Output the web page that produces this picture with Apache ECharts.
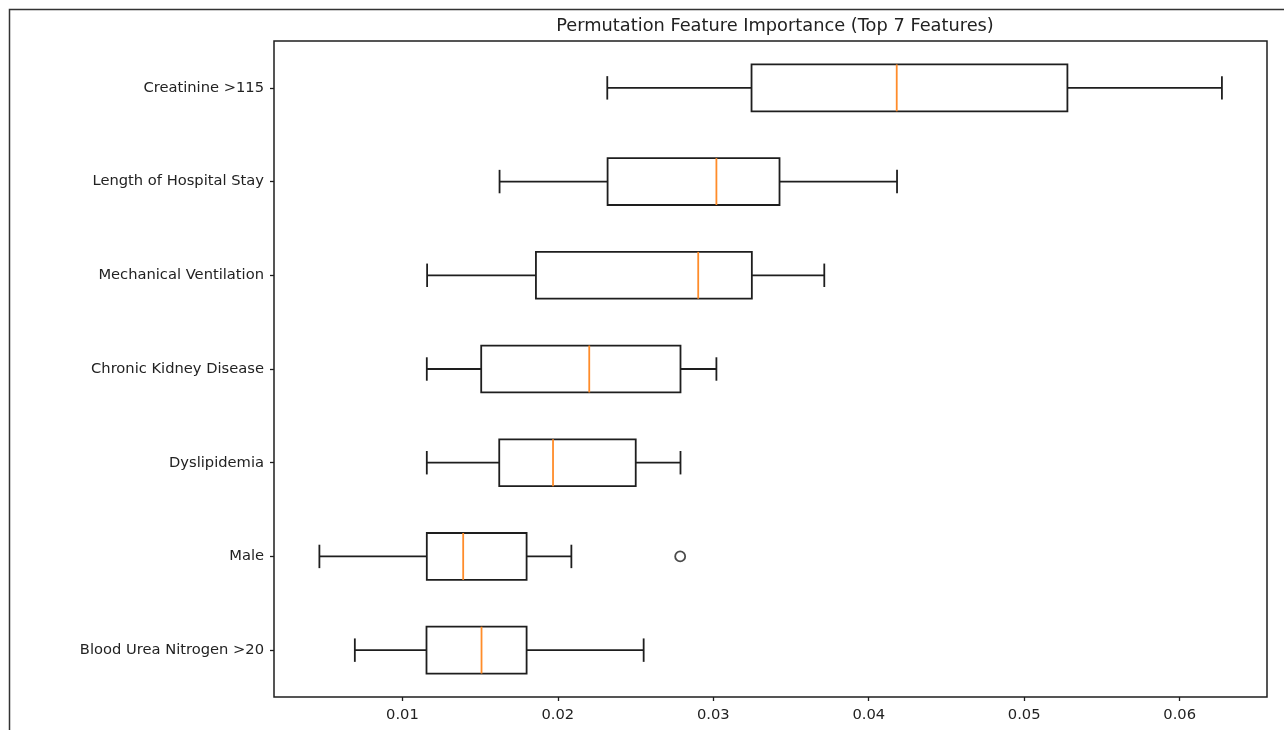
<!DOCTYPE html>
<html>
<head>
<meta charset="utf-8">
<script src="https://cdn.jsdelivr.net/npm/echarts@6/dist/echarts.min.js"></script>
<style>html,body{margin:0;padding:0;background:#fff;}#c{width:1284px;height:730px;}</style>
</head>
<body>
<div id="c"></div>
<script>
const categories = ['Creatinine >115','Length of Hospital Stay','Mechanical Ventilation','Chronic Kidney Disease','Dyslipidemia','Male','Blood Urea Nitrogen >20'];
const whiskerLow  = [0.02318, 0.01625, 0.01159, 0.01157, 0.01157, 0.00466, 0.00694];
const q1          = [0.03246, 0.02320, 0.01859, 0.01507, 0.01623, 0.01157, 0.01155];
const median      = [0.04180, 0.03020, 0.02903, 0.02202, 0.01969, 0.01391, 0.01509];
const q3          = [0.05278, 0.03426, 0.03248, 0.02789, 0.02501, 0.01799, 0.01799];
const whiskerHigh = [0.06272, 0.04182, 0.03714, 0.03020, 0.02789, 0.02087, 0.02552];
const outlierCats = ['Male'];
const outlierVals = [0.02787];
const xTicks = [0.01, 0.02, 0.03, 0.04, 0.05, 0.06];

const boxData = categories.map((c, i) => [i, whiskerLow[i], q1[i], median[i], q3[i], whiskerHigh[i]]);
const outlierData = outlierVals.map((v, i) => [v, categories.indexOf(outlierCats[i])]);

const lineColor = '#1e1e1e';
const lw = 1.8;
const chart = echarts.init(document.getElementById('c'), null, {renderer: 'canvas'});

function renderBox(params, api) {
  const idx = api.value(0);
  const band = api.size([0, 1])[1];
  const lo = api.coord([api.value(1), idx]);
  const a = api.coord([api.value(2), idx]);
  const m = api.coord([api.value(3), idx]);
  const b = api.coord([api.value(4), idx]);
  const hi = api.coord([api.value(5), idx]);
  const cy = lo[1];
  const bh = band * 0.25;
  const ch = band * 0.125;
  const st = {stroke: lineColor, lineWidth: lw, fill: null};
  return {
    type: 'group',
    children: [
      {type: 'line', shape: {x1: lo[0], y1: cy, x2: a[0], y2: cy}, style: st},
      {type: 'line', shape: {x1: b[0], y1: cy, x2: hi[0], y2: cy}, style: st},
      {type: 'line', shape: {x1: lo[0], y1: cy - ch, x2: lo[0], y2: cy + ch}, style: st},
      {type: 'line', shape: {x1: hi[0], y1: cy - ch, x2: hi[0], y2: cy + ch}, style: st},
      {type: 'rect', shape: {x: a[0], y: cy - bh, width: b[0] - a[0], height: bh * 2}, style: {stroke: lineColor, lineWidth: lw, fill: 'rgba(0,0,0,0)'}},
      {type: 'line', shape: {x1: m[0], y1: cy - bh, x2: m[0], y2: cy + bh}, style: {stroke: '#ff8c2a', lineWidth: lw}}
    ]
  };
}

chart.setOption({
  animation: false,
  backgroundColor: '#fff',
  textStyle: {fontFamily: 'DejaVu Sans'},
  title: {
    text: 'Permutation Feature Importance (Top 7 Features)',
    left: 770, top: 12, textAlign: 'center',
    textStyle: {fontFamily: 'DejaVu Sans', fontSize: 17.8, fontWeight: 'normal', color: '#222'}
  },
  graphic: [{
    type: 'rect', silent: true,
    shape: {x: 9.5, y: 9.5, width: 1400, height: 1000},
    style: {fill: null, stroke: '#333', lineWidth: 1.5}
  }],
  grid: {left: 274, top: 41, right: 17, bottom: 33, show: true, borderColor: lineColor, borderWidth: 1.5, backgroundColor: 'transparent'},
  xAxis: {
    type: 'value', min: 0.00174, max: 0.06562,
    splitLine: {show: false},
    axisLine: {show: false},
    axisTick: {show: true, length: 4, customValues: xTicks, lineStyle: {color: lineColor, width: 1.3}},
    axisLabel: {customValues: xTicks, margin: 11, fontSize: 14.7, color: '#222', fontFamily: 'DejaVu Sans', formatter: v => v.toFixed(2)}
  },
  yAxis: {
    type: 'category', data: categories, inverse: true,
    axisLine: {show: false},
    axisTick: {show: true, length: 4, alignWithLabel: true, lineStyle: {color: lineColor, width: 1.3}},
    axisLabel: {margin: 10, fontSize: 14.7, color: '#222', fontFamily: 'DejaVu Sans'},
    splitLine: {show: false}
  },
  series: [
    {type: 'custom', renderItem: renderBox, data: boxData, encode: {x: [1, 2, 3, 4, 5], y: 0}, clip: false},
    {type: 'scatter', data: outlierData, symbol: 'circle', symbolSize: 10,
     itemStyle: {color: '#fff', borderColor: lineColor, borderWidth: 1.8}}
  ]
});
</script>
</body>
</html>
